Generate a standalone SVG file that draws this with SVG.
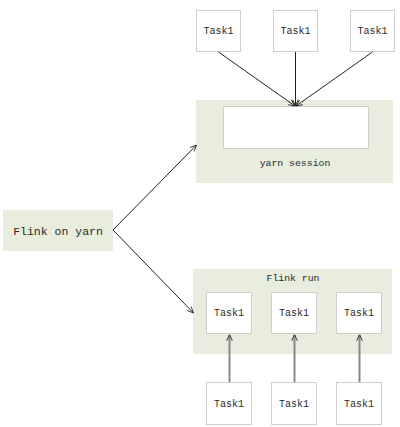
<svg xmlns="http://www.w3.org/2000/svg" width="400" height="427" viewBox="0 0 400 427">
<defs>
<style>
.grp{fill:#e8eddd;stroke:none}
.task{fill:#ffffff;stroke:#cfcfcf;stroke-width:1}
.t{font-family:"Liberation Mono","DejaVu Sans Mono",monospace;fill:#2a2a2a;text-anchor:middle}
.ln{stroke:#222222;stroke-width:1;fill:none;marker-end:url(#ah)}
.ln2{stroke:#888888;stroke-width:2;fill:none;marker-end:url(#ah2)}
</style>
<marker id="ah" viewBox="0 0 10 10" refX="10" refY="5" markerWidth="7" markerHeight="7" markerUnits="userSpaceOnUse" orient="auto">
<path d="M1,1 L10,5 L1,9" fill="none" stroke="#222" stroke-width="1.2"/>
</marker>
<marker id="ah2" viewBox="0 0 10 10" refX="10" refY="5" markerWidth="7" markerHeight="7" markerUnits="userSpaceOnUse" orient="auto">
<path d="M1,1 L10,5 L1,9" fill="none" stroke="#333" stroke-width="1.4"/>
</marker>
</defs>
<rect width="400" height="427" fill="#ffffff"/>
<g id="flink-on-yarn">
<rect class="grp" x="3" y="210" width="110" height="41"/>
<text class="t" x="58" y="234.5" font-size="11.5">Flink on yarn</text>
</g>
<g id="yarn-session">
<rect class="grp" x="196" y="100" width="197" height="83"/>
<rect class="task" x="223.5" y="106.5" width="145" height="42"/>
<text class="t" x="295" y="166" font-size="9.8">yarn session</text>
</g>
<g id="top-task-1">
<rect class="task" x="196.5" y="10.5" width="44" height="41"/>
<text class="t" x="218.5" y="34" font-size="10">Task1</text>
</g>
<g id="top-task-2">
<rect class="task" x="273.5" y="10.5" width="44" height="41"/>
<text class="t" x="295.5" y="34" font-size="10">Task1</text>
</g>
<g id="top-task-3">
<rect class="task" x="350.5" y="10.5" width="44" height="41"/>
<text class="t" x="372.5" y="34" font-size="10">Task1</text>
</g>
<g id="flink-run">
<rect class="grp" x="193" y="269" width="199" height="85"/>
<text class="t" x="293" y="280.5" font-size="9.8">Flink run</text>
</g>
<g id="run-task-1">
<rect class="task" x="206.5" y="292.5" width="45" height="41"/>
<text class="t" x="229" y="316" font-size="10">Task1</text>
</g>
<g id="run-task-2">
<rect class="task" x="271.5" y="292.5" width="45" height="41"/>
<text class="t" x="294" y="316" font-size="10">Task1</text>
</g>
<g id="run-task-3">
<rect class="task" x="336.5" y="292.5" width="45" height="41"/>
<text class="t" x="359" y="316" font-size="10">Task1</text>
</g>
<g id="bottom-task-1">
<rect class="task" x="206.5" y="382.5" width="45" height="42"/>
<text class="t" x="229" y="407" font-size="10">Task1</text>
</g>
<g id="bottom-task-2">
<rect class="task" x="271.5" y="382.5" width="45" height="42"/>
<text class="t" x="294" y="407" font-size="10">Task1</text>
</g>
<g id="bottom-task-3">
<rect class="task" x="336.5" y="382.5" width="45" height="42"/>
<text class="t" x="359" y="407" font-size="10">Task1</text>
</g>
<g id="connectors">
<line class="ln" x1="113" y1="230" x2="196.5" y2="145"/>
<line class="ln" x1="113" y1="230" x2="193.5" y2="313"/>
<line class="ln" x1="218.5" y1="52" x2="295" y2="106"/>
<line class="ln" x1="295.5" y1="52" x2="295.5" y2="106"/>
<line class="ln" x1="372.5" y1="52" x2="296" y2="106"/>
<line class="ln2" x1="229.5" y1="382" x2="229.5" y2="334.5"/>
<line class="ln2" x1="294.5" y1="382" x2="294.5" y2="334.5"/>
<line class="ln2" x1="359.5" y1="382" x2="359.5" y2="334.5"/>
</g>
</svg>
